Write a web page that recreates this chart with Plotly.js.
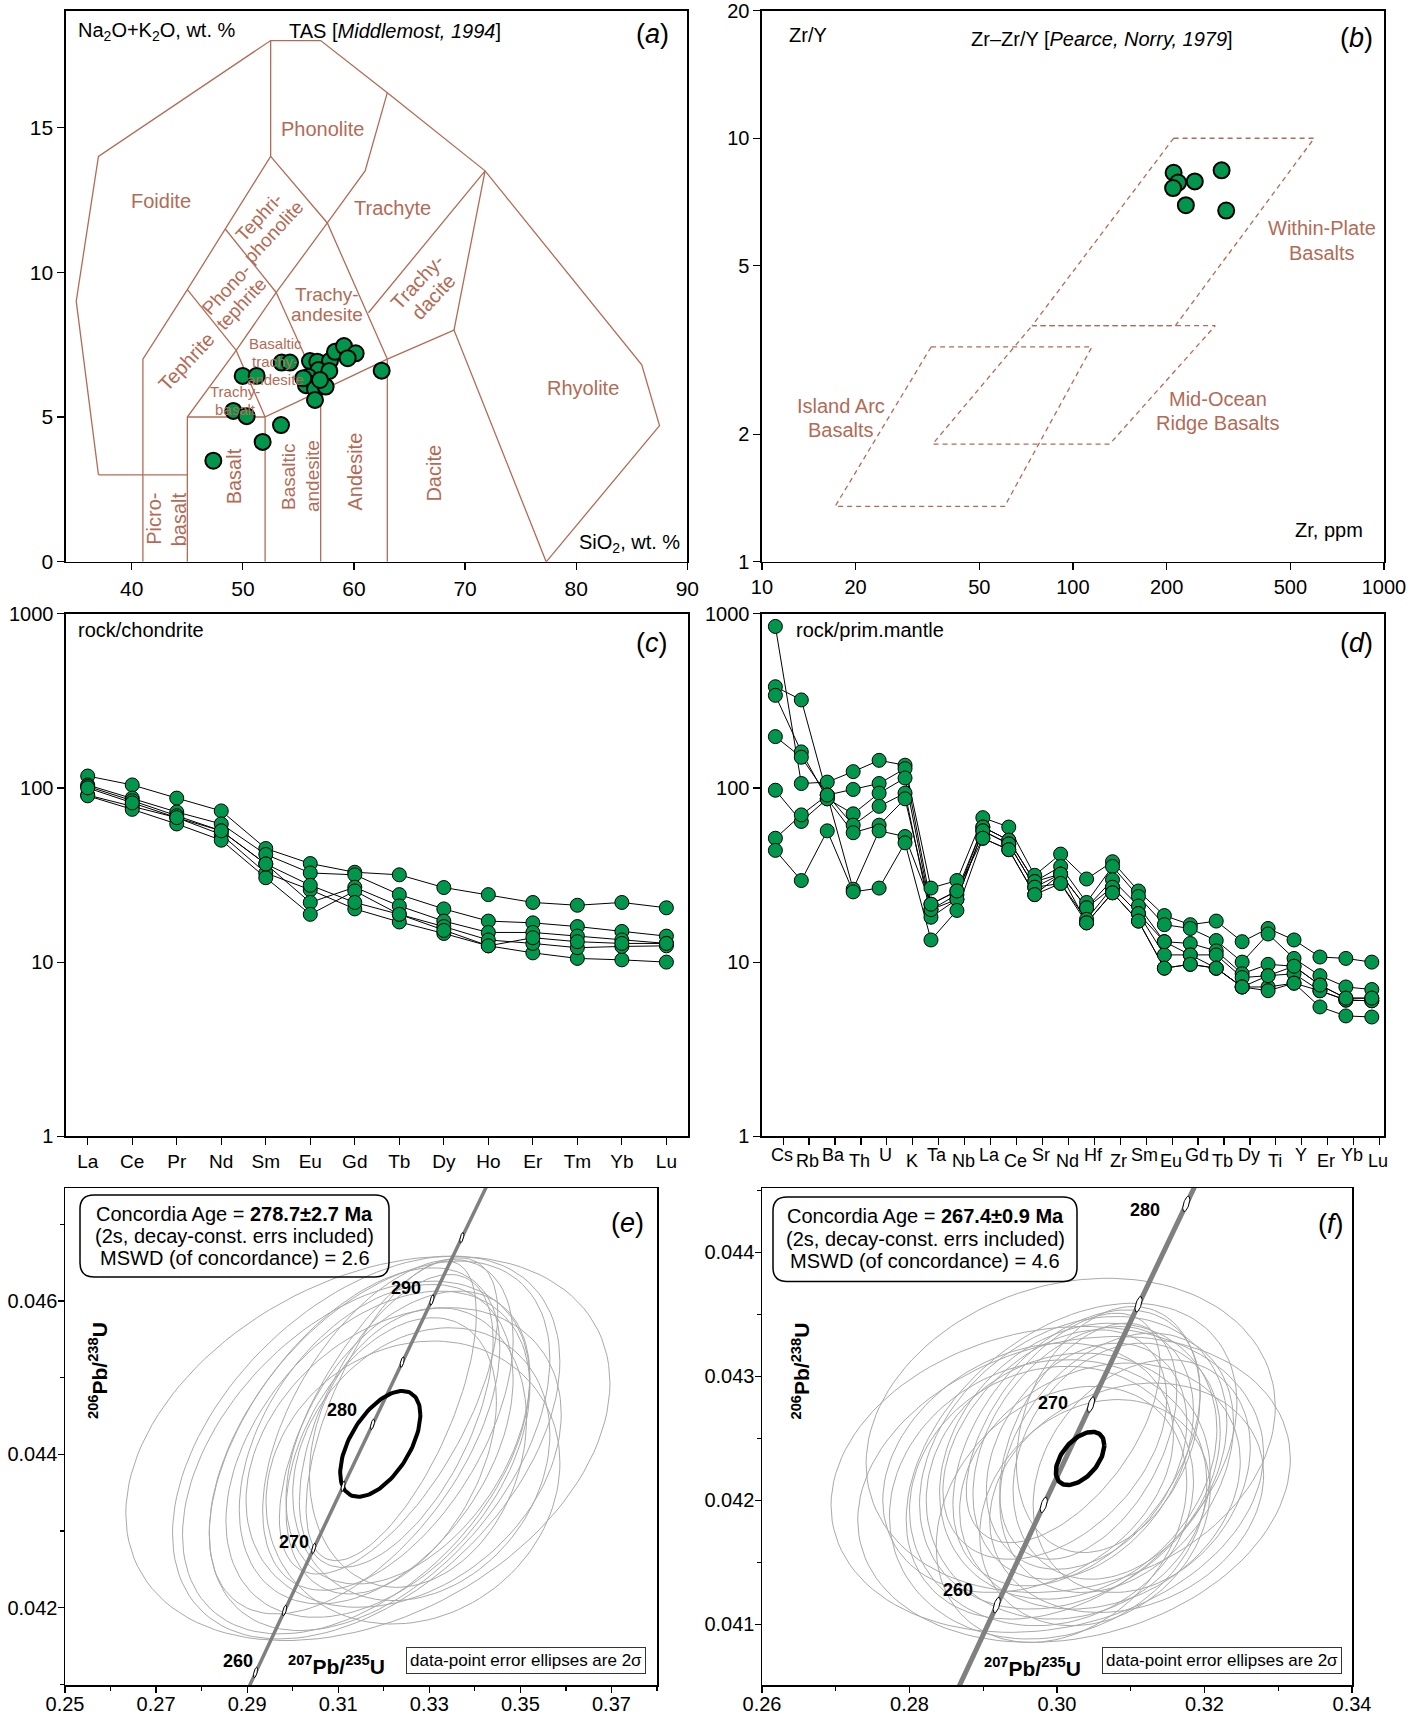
<!DOCTYPE html>
<html><head><meta charset="utf-8">
<script src="https://cdn.plot.ly/plotly-3.0.1.min.js"></script>
<style>html,body{margin:0;padding:0;background:#fff}#chart{width:1423px;height:1714px}</style>
</head><body><div id="chart"></div>
<script>
// ================= DATA =================
// (a) TAS diagram samples
const tasSiO2 = [47.34,51.78,53.43,49.14,50.34,49.98,51.24,53.49,54.24,56.04,56.70,57.84,58.29,59.10,60.15,59.43,56.79,57.78,55.68,55.89,56.49,57.45,56.49,62.49,56.94,55.44];
const tasAlk  = [3.49,4.14,4.72,5.21,5.03,6.42,6.42,6.88,6.88,6.93,6.91,6.94,7.25,7.45,7.20,7.03,6.62,6.59,6.10,6.39,5.97,6.05,5.59,6.60,6.28,6.34];
// TAS field boundaries (Middlemost, 1994): [SiO2, Na2O+K2O] vertices
const tasFieldLines = [
  [[37,3],[35,9],[37,14],[52.5,18],[57,18],[63,16.2],[71.8,13.5],[85.9,6.8],[87.5,4.7],[77.3,0]],
  [[37,3],[45,3]],
  [[41,0],[41,7],[45,9.4],[48.4,11.5],[52.5,14],[52.5,18]],
  [[45,0],[45,5],[49.4,7.3],[53,9.3],[57.6,11.7],[61,13.5],[63,16.2]],
  [[52,0],[52,5],[57,5.9],[63,7],[69,8],[77.3,0]],
  [[57,0],[57,5.9]],
  [[63,0],[63,7]],
  [[45,5],[52,5]],
  [[49.4,7.3],[52,5]],
  [[53,9.3],[57,5.9]],
  [[45,9.4],[49.4,7.3]],
  [[48.4,11.5],[53,9.3]],
  [[52.5,14],[57.6,11.7],[63,7]],
  [[61.3,8.6],[71.8,13.5],[69,8]]
];
const tasFieldNames = ['Foidite','Phonolite','Trachyte','Tephri-|phonolite','Phono-|tephrite','Trachy-|andesite','Trachy-|dacite','Tephrite','Basaltic|trachy-|andesite','Trachy-|basalt','Rhyolite','Basalt','Picro-|basalt','Basaltic|andesite','Andesite','Dacite'];

// (b) Zr - Zr/Y
const zrPpm = [210.7,217.8,209.9,246.5,300.6,230.7,311.0];
const zrY   = [8.29,7.86,7.63,7.91,8.40,6.95,6.75];
const wpbField  = [[210.7,10],[596.6,10],[213.5,3.61],[73.9,3.61],[210.7,10]];
const morbField = [[73.9,3.61],[286.9,3.61],[131.3,1.897],[35.4,1.897],[73.9,3.61]];
const iabField  = [[35.0,3.216],[115.1,3.216],[60.3,1.352],[17.2,1.352],[35.0,3.216]];
const zrFieldNames = ['Within-Plate|Basalts','Mid-Ocean|Ridge Basalts','Island Arc|Basalts'];

// (c) REE chondrite-normalised
const reeElements = ['La','Ce','Pr','Nd','Sm','Eu','Gd','Tb','Dy','Ho','Er','Tm','Yb','Lu'];
const reeSamples = [
  [117,104,87.4,73.8,44.9,36.8,32.8,31.7,26.8,24.4,22.0,21.2,22.0,20.5],
  [104,87.4,72.7,62.1,41.5,32.5,31.7,24.4,20.2,17.2,16.8,16.0,15.0,14.1],
  [91,78.4,67.5,54.0,32.5,26.0,20.2,17.0,14.6,12.4,11.3,10.5,10.3,10.0],
  [102,84.5,69.2,56.7,36.6,22.0,26.9,21.0,17.2,14.8,14.8,14.1,13.4,12.8],
  [90.1,75.3,62.1,50.1,30.5,18.8,25.6,18.8,16.0,13.4,12.8,12.1,12.3,12.4],
  [100,82,67.5,56.7,36.6,27.6,22.0,18.8,15.2,12.4,13.8,13.1,12.8,12.8]
];

// (d) primitive-mantle normalised
const pmElements = ['Cs','Rb','Ba','Th','U','K','Ta','Nb','La','Ce','Sr','Nd','Hf','Zr','Sm','Eu','Gd','Tb','Dy','Ti','Y','Er','Yb','Lu'];
const pmSamples = [
  [845,106,108,124,144,135,26.6,29.4,67.5,59.6,31.5,41.7,30.0,37.7,25.6,18.5,16.4,17.2,13.1,15.6,13.4,10.7,10.5,10.0],
  [381,320,91,98,106,129,21.5,25.6,59.6,50.1,29.0,35.4,22.0,35.4,23.8,16.4,15.6,13.3,10.0,14.5,10.5,8.36,7.2,6.96],
  [340,161,86.6,71,93.3,114,20.0,24.4,59.6,50.1,29.0,32.0,20.5,29.7,21.0,13.1,12.8,11.6,8.57,9.71,9.47,7.38,6.21,6.21],
  [197,150,91,61.1,78.4,93.3,18.1,22.9,56.7,47.7,26.9,32.0,20.5,26.9,19.0,11.0,11.0,11.0,8.15,8.36,8.57,6.85,6.05,6.0],
  [97,64.2,86.6,55.3,61.1,86.6,20.0,22.9,56.7,47.7,26.9,28.3,17.6,26.9,19.0,13.1,11.0,9.23,7.2,7.2,7.57,5.53,4.91,4.84],
  [51.4,70,91,26.2,56.7,52.6,21.5,25.6,51.4,44.2,24.4,32.0,16.8,25.0,17.2,9.23,9.71,9.23,7.2,6.85,7.57,6.85,6.05,6.0],
  [43.8,29.4,56.7,25.3,26.6,48.4,13.4,19.8,51.4,44.2,24.4,28.3,16.8,25.0,17.2,9.23,9.71,9.23,7.2,8.36,9.47,7.38,6.21,6.21]
];

// (e) U-Pb data-point error ellipses (207Pb/235U, 206Pb/238U, 2s half-widths, rho)
const eCx  = [0.31651,0.31614,0.31908,0.31871,0.32436,0.32091,0.32106,0.32164,0.32824,0.32274,0.32751,0.31358,0.31394,0.32641,0.32164,0.31834,0.32531];
const eCy  = [0.044078,0.044089,0.044111,0.044002,0.043959,0.044384,0.044501,0.043981,0.043872,0.044436,0.044089,0.044176,0.043959,0.043633,0.044567,0.044133,0.044219];
const eSx  = [0.05316,0.04253,0.0374,0.03337,0.03461,0.0275,0.02398,0.0231,0.02823,0.02127,0.02383,0.0319,0.03813,0.03227,0.0187,0.03007,0.02677];
const eSy  = [0.002506,0.002496,0.002409,0.002127,0.001953,0.002157,0.002062,0.001801,0.001779,0.00191,0.001823,0.002257,0.0023,0.001845,0.001953,0.002083,0.00191];
const eRho = [0.34,0.45,0.47,0.41,0.29,0.52,0.65,0.40,0.22,0.55,0.20,0.54,0.44,0.14,0.65,0.41,0.42];
const eConcordiaAge = [0.31923,0.044137,0.0088,0.00069,0.55]; // cx, cy, sx, sy, rho
const eCurveAges = [250,255,260,265,270,275,280,285,290,295,300,305];
const eMarkAges  = [260,265,270,275,280,285,290,295];
const eLabelAges = [260,270,280,290];
const eBoxLines = ['Concordia Age = <b>278.7±2.7 Ma</b>','(2s, decay-const. errs included)','MSWD (of concordance) = 2.6'];

// (f)
const fCx  = [0.301859,0.298688,0.302312,0.301972,0.302199,0.302878,0.302652,0.303557,0.30401,0.304237,0.301519,0.299255,0.305822,0.308087,0.309446,0.299707,0.30084,0.298801,0.306955,0.305143,0.311485,0.300613,0.308087,0.296083];
const fCy  = [0.042525,0.04217,0.042089,0.042317,0.042304,0.042317,0.042424,0.042384,0.042357,0.042478,0.042116,0.042036,0.042116,0.042317,0.042022,0.042451,0.042585,0.042009,0.042572,0.041902,0.042197,0.041888,0.042304,0.042264];
const fSx  = [0.027744,0.02933,0.02933,0.022422,0.020837,0.018798,0.01676,0.014948,0.013589,0.012004,0.019251,0.019251,0.019025,0.014042,0.018572,0.015174,0.013136,0.021516,0.012457,0.015627,0.014722,0.016986,0.015854,0.019704];
const fSy  = [0.0012671,0.0012336,0.0012336,0.0012738,0.00118,0.0011129,0.0011129,0.001019,0.0009118,0.000952,0.0010727,0.0010459,0.0009922,0.000952,0.0009252,0.0009252,0.0009252,0.0011263,0.0009922,0.0009118,0.0009386,0.0010325,0.0010459,0.0010056];
const fRho = [0.18,0.17,0.20,0.37,0.28,0.23,0.41,0.33,0.30,0.43,0.11,0.11,0.20,0.25,0.20,0.40,0.55,0.12,0.27,0.20,0.25,0.25,0.30,0.26];
const fConcordiaAge = [0.303127,0.042339,0.003284,0.0002145,0.5];
const fCurveAges = [245,250,255,260,265,270,275,280,285];
const fMarkAges  = [260,265,270,275,280];
const fLabelAges = [260,270,280];
const fBoxLines = ['Concordia Age = <b>267.4±0.9 Ma</b>','(2s, decay-const. errs included)','MSWD (of concordance) = 4.6'];

// ================= HELPERS =================
const W = 1423, H = 1714;
const px = v => v / W, py = v => 1 - v / H;
const BROWN = '#b36b55', GREEN = '#00964b';
const FONT = 'Liberation Sans, Arial, sans-serif';
const NARROW = 'Liberation Sans Narrow, Arial Narrow, Liberation Sans, sans-serif';
const L238 = 1.55125e-4, L235 = 9.8485e-4; // decay constants per Ma
const concX = t => Math.expm1(L235 * t), concY = t => Math.expm1(L238 * t);

function polylines(lines) {
  const xs = [], ys = [];
  lines.forEach(l => { l.forEach(p => { xs.push(p[0]); ys.push(p[1]); }); xs.push(null); ys.push(null); });
  return [xs, ys];
}
function ellipse(cx, cy, sx, sy, rho, n) {
  n = n || 120;
  const xs = [], ys = [], s = Math.sqrt(1 - rho * rho);
  for (let i = 0; i <= n; i++) {
    const a = 2 * Math.PI * i / n;
    xs.push(cx + sx * Math.cos(a));
    ys.push(cy + sy * (rho * Math.cos(a) + s * Math.sin(a)));
  }
  return [xs, ys];
}
function ellipseSet(cx, cy, sx, sy, rho) {
  const X = [], Y = [];
  cx.forEach((_, i) => { const [a, b] = ellipse(cx[i], cy[i], sx[i], sy[i], rho[i]); X.push(...a, null); Y.push(...b, null); });
  return [X, Y];
}
function markerSet(ages, sx, sy) {
  const X = [], Y = [];
  ages.forEach(t => { const [a, b] = ellipse(concX(t), concY(t), sx, sy, 0.6, 40); X.push(...a, null); Y.push(...b, null); });
  return [X, Y];
}
function roundRect(x0, y0, x1, y1, r) {
  const P = (x, y) => px(x).toFixed(5) + ',' + py(y).toFixed(5);
  return 'M' + P(x0 + r, y0) + ' L' + P(x1 - r, y0) + ' Q' + P(x1, y0) + ' ' + P(x1, y0 + r) +
    ' L' + P(x1, y1 - r) + ' Q' + P(x1, y1) + ' ' + P(x1 - r, y1) + ' L' + P(x0 + r, y1) +
    ' Q' + P(x0, y1) + ' ' + P(x0, y1 - r) + ' L' + P(x0, y0 + r) + ' Q' + P(x0, y0) + ' ' + P(x0 + r, y0) + ' Z';
}

// ================= TRACES =================
const traces = [];
// (a)
const [tfx, tfy] = polylines(tasFieldLines);
traces.push({x: tfx, y: tfy, xaxis: 'x', yaxis: 'y', mode: 'lines', line: {color: BROWN, width: 1.3}});
traces.push({x: tasSiO2, y: tasAlk, xaxis: 'x', yaxis: 'y', mode: 'markers', marker: {size: 16, color: GREEN, line: {color: '#000', width: 2}}});
// (b)
[wpbField, morbField, iabField].forEach(f => {
  traces.push({x: f.map(p => p[0]), y: f.map(p => p[1]), xaxis: 'x2', yaxis: 'y2', mode: 'lines', line: {color: BROWN, width: 1.3, dash: '5px,4px'}});
});
traces.push({x: zrPpm, y: zrY, xaxis: 'x2', yaxis: 'y2', mode: 'markers', marker: {size: 16, color: GREEN, line: {color: '#000', width: 2}}});
// (c)
const reeIdx = reeElements.map((_, i) => i);
reeSamples.forEach(s => traces.push({x: reeIdx, y: s, xaxis: 'x3', yaxis: 'y3', mode: 'lines', line: {color: '#000', width: 1}}));
reeSamples.forEach(s => traces.push({x: reeIdx, y: s, xaxis: 'x3', yaxis: 'y3', mode: 'markers', marker: {size: 14, color: GREEN, line: {color: '#000', width: 1}}}));
// (d)
const pmIdx = pmElements.map((_, i) => i);
pmSamples.forEach(s => traces.push({x: pmIdx, y: s, xaxis: 'x4', yaxis: 'y4', mode: 'lines', line: {color: '#000', width: 1}}));
pmSamples.forEach(s => traces.push({x: pmIdx, y: s, xaxis: 'x4', yaxis: 'y4', mode: 'markers', marker: {size: 14, color: GREEN, line: {color: '#000', width: 1}}}));
// (e), (f)
function concordiaTraces(xa, ya, cx, cy, sx, sy, rho, conc, curveAges, markAges, lineW, ellW, msx, msy) {
  const [gx, gy] = ellipseSet(cx, cy, sx, sy, rho);
  traces.push({x: gx, y: gy, xaxis: xa, yaxis: ya, mode: 'lines', line: {color: '#a9a9a9', width: 1}});
  traces.push({x: curveAges.map(concX), y: curveAges.map(concY), xaxis: xa, yaxis: ya, mode: 'lines', line: {color: '#808080', width: lineW}});
  const [bx, by] = ellipse(conc[0], conc[1], conc[2], conc[3], conc[4]);
  traces.push({x: bx, y: by, xaxis: xa, yaxis: ya, mode: 'lines', line: {color: '#000', width: ellW}});
  const [mx, my] = markerSet(markAges, msx, msy);
  traces.push({x: mx, y: my, xaxis: xa, yaxis: ya, mode: 'lines', fill: 'toself', fillcolor: '#fff', line: {color: '#000', width: 1}});
}
concordiaTraces('x5', 'y5', eCx, eCy, eSx, eSy, eRho, eConcordiaAge, eCurveAges, eMarkAges, 3.5, 4, 0.00045, 0.000068);
concordiaTraces('x6', 'y6', fCx, fCy, fSx, fSy, fRho, fConcordiaAge, fCurveAges, fMarkAges, 5, 4.5, 0.00048, 0.000062);

// ================= LAYOUT =================
const axBase = {showline: true, linecolor: '#000', linewidth: 1.5, mirror: true, ticks: 'outside', ticklen: 7,
  tickwidth: 1.2, tickcolor: '#000', showgrid: false, zeroline: false, fixedrange: true, ticklabeloverflow: 'allow',
  tickfont: {family: FONT, size: 20, color: '#000'}};
const ax = o => Object.assign({}, axBase, o);

const yTop = [py(561.8), py(10.7)], yMid = [py(1136.3), py(613.7)], yBot = [py(1685), py(1188)];
const minorT = (t0, dt) => ({tick0: t0, dtick: dt, ticks: 'outside', ticklen: 4, tickcolor: '#000'});

const layout = {
  width: W, height: H, margin: {l: 0, r: 0, t: 0, b: 0}, showlegend: false, hovermode: false,
  paper_bgcolor: '#fff', plot_bgcolor: 'rgba(0,0,0,0)', font: {family: FONT, size: 20, color: '#000'},
  xaxis:  ax({domain: [px(65.9), px(687.3)], range: [34.07, 90], tickvals: [40,50,60,70,80,90], anchor: 'y', tickfont: {family: FONT, size: 21}}),
  yaxis:  ax({domain: yTop, range: [0, 19.03], tickvals: [0,5,10,15], anchor: 'x', tickfont: {family: FONT, size: 21}}),
  xaxis2: ax({domain: [px(761.9), px(1384)], type: 'log', range: [1, 3.0001], tickvals: [10,20,50,100,200,500,1000], ticktext: ['10','20','50','100','200','500','1000'], anchor: 'y2'}),
  yaxis2: ax({domain: yTop, type: 'log', range: [0, 1.3012], tickvals: [1,2,5,10,20], ticktext: ['1','2','5','10','20'], anchor: 'x2'}),
  xaxis3: ax({domain: [px(65.9), px(688.2)], range: [-0.49, 13.49], tickvals: reeIdx, ticktext: reeElements, anchor: 'y3', tickfont: {family: FONT, size: 19}}),
  yaxis3: ax({domain: yMid, type: 'log', range: [0, 3.0001], tickvals: [1,10,100,1000], ticktext: ['1','10','100','1000'], anchor: 'x3'}),
  xaxis4: ax({domain: [px(761.9), px(1384)], range: [-0.52, 23.47], tickvals: pmIdx.map(i => i + 0.3), showticklabels: false, anchor: 'y4'}),
  yaxis4: ax({domain: yMid, type: 'log', range: [0, 3.0001], tickvals: [1,10,100,1000], ticktext: ['1','10','100','1000'], anchor: 'x4'}),
  xaxis5: ax({domain: [px(65), px(657)], range: [0.25, 0.38], tick0: 0.25, dtick: 0.02, tickformat: '.2f', anchor: 'y5',
    ticklen: 6, ticklabelstandoff: -6, minor: minorT(0.25, 0.01)}),
  yaxis5: ax({domain: yBot, range: [0.040993, 0.047473], tick0: 0.042, dtick: 0.002, tickformat: '.3f', anchor: 'x5',
    ticklen: 6, ticklabelstandoff: -4, minor: minorT(0.041, 0.001)}),
  xaxis6: ax({domain: [px(762), px(1352)], range: [0.26, 0.34], tick0: 0.26, dtick: 0.02, tickformat: '.2f', anchor: 'y6',
    ticklen: 6, ticklabelstandoff: -6, minor: minorT(0.26, 0.01)}),
  yaxis6: ax({domain: yBot, range: [0.040512, 0.04452], tick0: 0.041, dtick: 0.001, tickformat: '.3f', anchor: 'x6',
    ticklen: 6, ticklabelstandoff: -4, minor: minorT(0.0405, 0.0005)}),
  annotations: [], shapes: []
};
const A = layout.annotations;
const paperText = (text, x, y, xanchor, size, extra) => A.push(Object.assign({text, xref: 'paper', yref: 'paper', x: px(x), y: py(y),
  xanchor: xanchor || 'center', yanchor: 'middle', showarrow: false, font: {family: FONT, size: size || 20, color: '#000'}}, extra || {}));
// multi-line label: one annotation per line, lines spaced 'gap' px perpendicular to the text direction
function multiLabel(name, xref, yref, x, y, size, angle, gap, color) {
  const parts = name.split('|'), a = angle * Math.PI / 180;
  parts.forEach((t, k) => {
    const off = (k - (parts.length - 1) / 2) * gap;
    A.push({text: t, xref, yref, x, y, showarrow: false, textangle: angle,
      xshift: off * -Math.sin(a), yshift: -off * Math.cos(a), font: {family: FONT, size, color}});
  });
}

// (a) texts
paperText('Na<sub>2</sub>O+K<sub>2</sub>O, wt. %', 76, 31, 'left');
paperText('TAS [<i>Middlemost, 1994</i>]', 394.5, 31);
paperText('(<i>a</i>)', 652, 34, 'center', 27);
paperText('SiO<sub>2</sub>, wt. %', 682, 543, 'right');
// TAS field labels: [name index, SiO2, alk, size, angle, line gap px]
[[0,42.66,12.46,20,0,0],[1,57.2,14.93,20,0,0],[2,63.45,12.2,20,0,0],[3,52.1,11.65,19,-47,21],[4,49.2,9.15,19,-47,21],
 [5,57.6,8.9,19,0,20],[6,66.4,9.4,20,-47,22],[7,44.9,6.9,20,-47,0],[8,52.9,6.92,15,0,17.8],[9,49.33,5.58,15,0,18.4],
 [10,80.6,6.0,20,0,0],[11,49.2,2.95,20,-90,0],[12,43.15,1.47,20,-90,24.5],[13,55.2,2.95,19,-90,24],[14,60.1,3.12,20,-90,0],[15,67.2,3.08,20,-90,0]]
.forEach(l => multiLabel(tasFieldNames[l[0]], 'x', 'y', l[1], l[2], l[3], l[4], l[5], BROWN));

// (b) texts
paperText('Zr/Y', 787, 34.5, 'left');
paperText('Zr–Zr/Y [<i>Pearce, Norry, 1979</i>]', 1102, 39);
paperText('(<i>b</i>)', 1356, 38, 'center', 27);
paperText('Zr, ppm', 1365, 530, 'right');
[[0, 631, 5.73, 24.9], [1, 291.7, 2.27, 23.5], [2, 17.9, 2.18, 24]]
.forEach(l => multiLabel(zrFieldNames[l[0]], 'x2', 'y2', Math.log10(l[1]), Math.log10(l[2]), 20, 0, l[3], BROWN));

// (c), (d) texts
paperText('rock/chondrite', 76, 630, 'left');
paperText('(<i>c</i>)', 652, 643, 'center', 27);
paperText('rock/prim.mantle', 794, 630, 'left');
paperText('(<i>d</i>)', 1356, 643, 'center', 27);
pmElements.forEach((el, i) => A.push({text: el, xref: 'x4', yref: 'paper', x: i + 0.25, y: py(1136.3), yanchor: 'top',
  yshift: i % 2 ? -13 : -7, showarrow: false, font: {family: FONT, size: 18, color: '#000'}}));

// (e), (f) texts
function concordiaText(xa, ya, box, lines, lineY, cxText, tag, tagXY, xl, yl, note, labelAges, shifts) {
  layout.shapes.push({type: 'path', xref: 'paper', yref: 'paper', path: roundRect(box[0], box[1], box[2], box[3], 14),
    line: {color: '#000', width: 1.5}, fillcolor: 'rgba(255,255,255,0)'});
  lines.forEach((t, i) => paperText(t, cxText, lineY[i], 'center', 20));
  paperText('(<i>' + tag + '</i>)', tagXY[0], tagXY[1], 'center', 27);
  paperText('<b><sup>207</sup>Pb/<sup>235</sup>U</b>', xl[0], xl[1], 'center', 21);
  paperText('<b><sup>206</sup>Pb/<sup>238</sup>U</b>', yl[0], yl[1], 'center', 21, {textangle: -90});
  paperText('data-point error ellipses are 2σ', note[0], note[1], 'center', 17,
    {bordercolor: '#333', borderwidth: 1, borderpad: 3, bgcolor: '#fff', font: {family: NARROW, size: 17, color: '#000'}});
  labelAges.forEach((t, i) => A.push({text: '<b>' + t + '</b>', xref: xa, yref: ya, x: concX(t), y: concY(t), xanchor: 'right',
    yanchor: 'middle', xshift: shifts[i][0], yshift: shifts[i][1], showarrow: false, font: {family: NARROW, size: 18, color: '#000'}}));
}
concordiaText('x5', 'y5', [80, 1195, 389, 1277], eBoxLines,
  [1213.5, 1236.2, 1258.3], 234.5, 'e', [627, 1223], [336, 1665], [98, 1371], [525.5, 1660.5], eLabelAges,
  [[0, 11], [-3, 6], [-14, 14], [-9, 12]]);
concordiaText('x6', 'y6', [773, 1197, 1077, 1281.5], fBoxLines,
  [1215.8, 1238.6, 1261], 925, 'f', [1331, 1224], [1032, 1667], [800.5, 1371], [1222, 1660], fLabelAges,
  [[-22, 15], [-21, 2], [-24, -6]]);

Plotly.newPlot('chart', traces, layout, {staticPlot: true, displayModeBar: false});
</script>
</body></html>
